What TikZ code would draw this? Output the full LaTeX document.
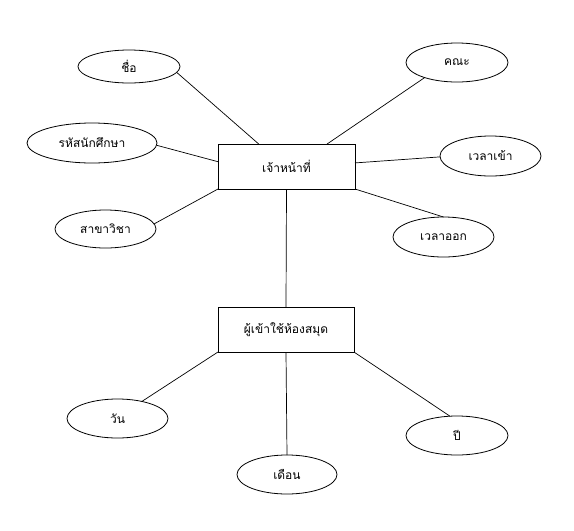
\documentclass[tikz,border=0pt]{standalone}
\usepackage{fontspec}
\newfontfamily\thaifont[Script=Thai]{Loma}
\usetikzlibrary{shapes.geometric}
\begin{document}
\begin{tikzpicture}[x=1pt,y=-1pt,
  attr/.style={draw,ellipse,line width=0.8pt,inner sep=0pt,outer sep=0pt,font=\thaifont\fontsize{12}{14}\selectfont},
  entity/.style={draw,rectangle,line width=0.8pt,inner sep=0pt,outer sep=0pt,minimum width=137pt,minimum height=45pt,font=\thaifont\fontsize{12}{14}\selectfont},
  link/.style={line width=0.7pt}]
\useasboundingbox (0,0) rectangle (574,531);
\node[entity] (staff) at (286.5,166.5) {เจ้าหน้าที่};
\node[entity,minimum width=136pt] (user) at (286,329.5) {ผู้เข้าใช้ห้องสมุด};
\node[attr,minimum width=102pt,minimum height=33pt] (name) at (129,66.5) {ชื่อ};
\node[attr,minimum width=130pt,minimum height=40pt] (sid) at (92,143) {รหัสนักศึกษา};
\node[attr,minimum width=101pt,minimum height=38pt] (major) at (105.5,229) {สาขาวิชา};
\node[attr,minimum width=102pt,minimum height=39pt] (fac) at (457,62.5) {คณะ};
\node[attr,minimum width=101pt,minimum height=40pt] (tin) at (490.5,156) {เวลาเข้า};
\node[attr,minimum width=101pt,minimum height=40pt] (tout) at (443.5,237) {เวลาออก};
\node[attr,minimum width=101pt,minimum height=39pt] (day) at (117.5,418.5) {วัน};
\node[attr,minimum width=100pt,minimum height=39pt] (month) at (287,474.5) {เดือน};
\node[attr,minimum width=102pt,minimum height=39pt] (year) at (457,435.5) {ปี};
\draw[link] (name.-7) -- (staff.141.7);
\draw[link] (sid.-2.6) -- (staff.176.2);
\draw[link] (major.6.6) -- (staff.south west);
\draw[link] (fac.205.8) -- (staff.29.06);
\draw[link] (tin.181) -- (staff.3.76);
\draw[link] (tout.90) -- (staff.south east);
\draw[link] (staff.south) -- (user.north);
\draw[link] (user.south west) -- (day.35);
\draw[link] (user.south) -- (month.north);
\draw[link] (user.south east) -- (year.110);
\end{tikzpicture}
\end{document}
